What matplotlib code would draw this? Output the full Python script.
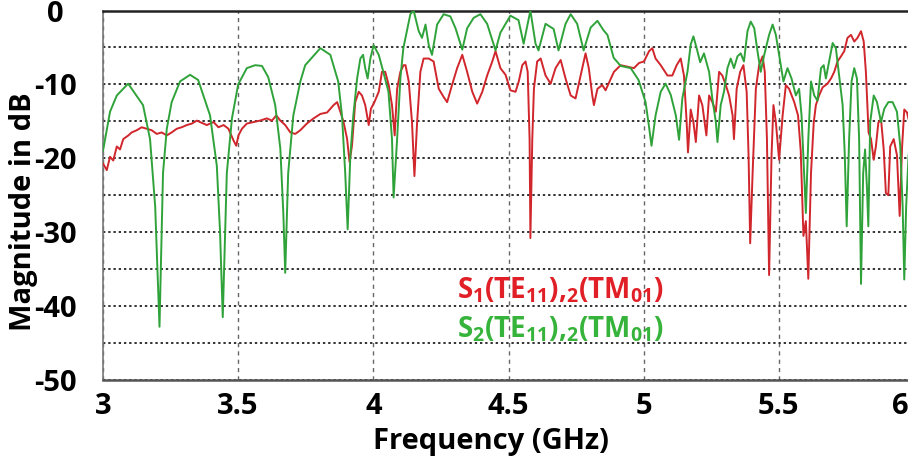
import numpy as np
import matplotlib.pyplot as plt

## S-parameter traces (GHz, dB)
s2_freq = [3.000, 3.026, 3.051, 3.093, 3.148, 3.174, 3.193, 3.209, 3.222, 3.236,
           3.254, 3.285, 3.322, 3.352, 3.396, 3.421, 3.433, 3.443, 3.458, 3.477,
           3.500, 3.532, 3.563, 3.588, 3.611, 3.637, 3.656, 3.667, 3.674, 3.685,
           3.704, 3.730, 3.748, 3.804, 3.841, 3.870, 3.884, 3.896, 3.905, 3.915,
           3.926, 3.940, 3.952, 3.962, 3.970, 3.979, 3.989, 4.001, 4.020, 4.037,
           4.056, 4.069, 4.075, 4.088, 4.100, 4.111, 4.119, 4.137, 4.149, 4.168,
           4.180, 4.193, 4.205, 4.217, 4.236, 4.260, 4.285, 4.304, 4.329, 4.347,
           4.371, 4.396, 4.421, 4.452, 4.470, 4.507, 4.537, 4.556, 4.581, 4.600,
           4.611, 4.637, 4.667, 4.685, 4.711, 4.730, 4.754, 4.778, 4.804, 4.829,
           4.852, 4.866, 4.889, 4.915, 4.952, 4.981, 5.007, 5.019, 5.029, 5.044,
           5.063, 5.081, 5.100, 5.119, 5.131, 5.143, 5.162, 5.174, 5.184, 5.196,
           5.209, 5.223, 5.242, 5.254, 5.267, 5.273, 5.285, 5.297, 5.310, 5.322,
           5.334, 5.347, 5.359, 5.371, 5.384, 5.396, 5.409, 5.421, 5.433, 5.446,
           5.464, 5.477, 5.489, 5.501, 5.517, 5.532, 5.547, 5.563, 5.575, 5.584,
           5.591, 5.600, 5.609, 5.619, 5.631, 5.643, 5.656, 5.666, 5.674, 5.686,
           5.699, 5.711, 5.723, 5.736, 5.744, 5.751, 5.760, 5.769, 5.779, 5.789,
           5.797, 5.804, 5.812, 5.819, 5.826, 5.831, 5.838, 5.851, 5.863, 5.878,
           5.890, 5.905, 5.921, 5.937, 5.949, 5.958, 5.964, 5.971, 5.980]
s2_db = [-19.0, -13.7, -11.5, -9.9, -12.8, -17.4, -26.5, -42.8, -22.0, -16.0,
         -12.4, -9.6, -8.7, -9.4, -14.2, -21.0, -30.0, -41.5, -22.0, -14.6,
         -10.0, -7.8, -7.4, -7.5, -9.0, -12.8, -18.7, -27.4, -35.5, -22.0,
         -14.2, -9.6, -7.4, -5.1, -6.0, -9.6, -14.2, -22.0, -29.6, -19.6,
         -14.2, -9.2, -6.5, -6.0, -7.8, -9.2, -6.5, -4.7, -6.0, -8.3,
         -11.0, -17.4, -25.3, -17.4, -9.2, -5.1, -3.7, -0.5, 0.0, -2.8,
         -3.7, -1.9, -4.7, -6.0, -1.9, -0.5, -0.8, -2.4, -5.3, -2.4,
         -1.0, -0.5, -1.8, -5.4, -3.0, -0.7, -1.3, -4.5, 0.0, -4.5,
         -5.4, -1.8, -2.5, -5.4, -1.8, -0.5, -1.8, -5.4, -2.3, -1.4,
         -2.7, -3.3, -6.4, -7.5, -7.8, -9.4, -12.4, -15.5, -18.3, -14.2,
         -11.0, -9.9, -11.4, -14.2, -17.5, -11.9, -8.3, -4.6, -3.5, -5.1,
         -7.0, -5.8, -8.3, -11.9, -15.1, -17.8, -12.8, -11.0, -7.8, -6.5,
         -7.8, -6.2, -5.8, -6.9, -2.8, -1.5, -2.4, -5.5, -8.3, -6.0,
         -3.3, -1.9, -3.3, -6.0, -9.6, -7.8, -9.2, -11.5, -10.6, -14.2,
         -20.0, -27.4, -17.4, -9.6, -11.5, -12.2, -7.8, -7.4, -9.2, -6.9,
         -4.4, -5.1, -8.8, -12.8, -19.6, -29.2, -17.4, -9.6, -7.8, -9.2,
         -17.4, -37.0, -22.0, -18.8, -24.0, -29.2, -15.1, -11.5, -12.4, -15.1,
         -13.3, -12.4, -12.4, -13.7, -18.3, -26.5, -36.4, -26.5, -19.6]

s1_freq = [3.000, 3.014, 3.026, 3.038, 3.051, 3.063, 3.075, 3.094, 3.106, 3.125,
           3.143, 3.162, 3.180, 3.199, 3.217, 3.236, 3.254, 3.273, 3.291, 3.310,
           3.329, 3.347, 3.359, 3.384, 3.409, 3.427, 3.446, 3.464, 3.483, 3.493,
           3.501, 3.514, 3.532, 3.557, 3.581, 3.606, 3.625, 3.641, 3.656, 3.674,
           3.693, 3.711, 3.730, 3.754, 3.779, 3.804, 3.829, 3.853, 3.866, 3.878,
           3.890, 3.903, 3.912, 3.921, 3.933, 3.946, 3.958, 3.970, 3.983, 3.991,
           4.004, 4.020, 4.032, 4.044, 4.057, 4.069, 4.079, 4.088, 4.100, 4.112,
           4.119, 4.131, 4.143, 4.152, 4.162, 4.174, 4.186, 4.205, 4.223, 4.242,
           4.260, 4.273, 4.291, 4.310, 4.329, 4.347, 4.366, 4.384, 4.403, 4.421,
           4.440, 4.452, 4.470, 4.489, 4.507, 4.526, 4.538, 4.551, 4.563, 4.571,
           4.578, 4.581, 4.588, 4.594, 4.606, 4.619, 4.637, 4.656, 4.674, 4.693,
           4.711, 4.730, 4.748, 4.767, 4.785, 4.797, 4.810, 4.816, 4.829, 4.847,
           4.859, 4.890, 4.915, 4.940, 4.964, 4.983, 5.001, 5.020, 5.032, 5.044,
           5.063, 5.088, 5.106, 5.122, 5.137, 5.149, 5.159, 5.164, 5.174, 5.184,
           5.193, 5.205, 5.217, 5.232, 5.242, 5.254, 5.267, 5.279, 5.291, 5.304,
           5.316, 5.329, 5.334, 5.344, 5.357, 5.369, 5.381, 5.388, 5.394, 5.403,
           5.415, 5.427, 5.440, 5.448, 5.456, 5.464, 5.473, 5.480, 5.489, 5.501,
           5.514, 5.526, 5.538, 5.557, 5.571, 5.581, 5.591, 5.600, 5.609, 5.619,
           5.629, 5.637, 5.649, 5.662, 5.680, 5.693, 5.705, 5.717, 5.730, 5.742,
           5.754, 5.767, 5.779, 5.791, 5.804, 5.814, 5.822, 5.832, 5.841, 5.851,
           5.859, 5.868, 5.878, 5.888, 5.896, 5.905, 5.912, 5.925, 5.937, 5.947,
           5.956, 5.964, 5.974, 5.980]
s1_db = [-20.7, -21.6, -19.8, -20.3, -18.4, -18.8, -17.4, -16.9, -16.5, -16.2,
         -15.8, -16.0, -16.2, -16.7, -16.5, -16.9, -16.5, -16.0, -15.8, -15.5,
         -15.3, -14.9, -15.1, -15.5, -15.1, -15.8, -15.5, -16.0, -17.6, -18.3,
         -16.9, -16.0, -15.3, -15.1, -14.9, -14.6, -14.9, -14.2, -14.9, -15.5,
         -16.5, -16.7, -16.2, -15.3, -14.6, -14.0, -13.8, -12.8, -12.4, -13.7,
         -15.1, -17.4, -20.5, -18.3, -12.4, -11.0, -11.5, -12.8, -15.5, -13.3,
         -12.4, -11.0, -8.3, -8.3, -10.1, -12.8, -16.9, -10.6, -8.3, -7.4,
         -7.4, -9.6, -15.1, -22.4, -15.1, -8.3, -6.5, -6.5, -6.9, -10.6,
         -11.7, -12.4, -10.1, -7.8, -6.0, -8.3, -11.0, -12.6, -11.0, -8.8,
         -6.9, -5.5, -7.8, -8.7, -10.8, -11.0, -9.6, -7.4, -6.9, -8.3,
         -17.4, -30.8, -17.4, -10.6, -6.9, -6.5, -8.8, -9.9, -7.8, -6.7,
         -9.2, -11.5, -11.9, -8.8, -5.8, -7.8, -11.5, -12.8, -10.6, -10.1,
         -10.8, -8.3, -7.4, -7.6, -7.8, -7.1, -6.9, -5.5, -5.1, -6.5,
         -7.4, -8.8, -8.8, -7.4, -6.5, -8.8, -15.1, -19.2, -13.4, -15.1,
         -17.8, -11.5, -12.8, -16.9, -11.5, -12.4, -13.7, -8.3, -8.8, -10.1,
         -11.5, -14.2, -17.4, -10.6, -8.3, -7.4, -11.0, -19.6, -31.5, -22.0,
         -10.6, -7.4, -6.2, -8.3, -17.4, -35.8, -19.6, -12.8, -15.1, -20.2,
         -14.2, -10.1, -10.6, -12.4, -14.2, -19.0, -30.5, -28.5, -36.3, -22.0,
         -15.2, -12.8, -11.5, -10.4, -9.9, -9.2, -8.3, -6.9, -6.2, -5.5,
         -3.7, -3.3, -4.2, -3.7, -2.8, -4.2, -8.3, -16.5, -17.4, -20.2,
         -18.4, -15.2, -14.7, -18.8, -24.7, -25.0, -18.4, -17.4, -19.6, -27.8,
         -18.4, -13.4, -13.8, -14.7]

x_ticks = [3, 3.5, 4, 4.5, 5, 5.5, 6]
x_tick_labels = ['3', '3.5', '4', '4.5', '5', '5.5', '']
y_ticks = [-50, -40, -30, -20, -10, 0]
labels = [r'$\mathbf{S_1(TE_{11}){,}_2(TM_{01})}$', r'$\mathbf{S_2(TE_{11}){,}_2(TM_{01})}$']

plt.rcParams['font.family'] = ['Open Sans', 'DejaVu Sans']
plt.rcParams['axes.unicode_minus'] = False
plt.rcParams['mathtext.fontset'] = 'custom'
plt.rcParams['mathtext.bf'] = 'Open Sans:bold'
plt.rcParams['mathtext.rm'] = 'Open Sans:bold'

W, H = 908, 459
fig = plt.figure(figsize=(W / 100, H / 100), dpi=100)
ax = fig.add_axes([103 / W, 1 - 380 / H, (914 - 103) / W, (380 - 10.5) / H])

ax.plot(s1_freq, s1_db, color='#d0262c', lw=1.4, zorder=3)
ax.plot(s2_freq, s2_db, color='#2fa33a', lw=1.4, zorder=4)

ax.set_xlim(3, 6)
ax.set_ylim(-50, 0)
ax.set_xticks(x_ticks)
ax.set_xticklabels(x_tick_labels)
ax.set_yticks(y_ticks)
ax.set_yticks(np.arange(-45, 0, 5), minor=True)
ax.tick_params(length=0, which='both')
ax.tick_params(axis='x', labelsize=21, pad=9)
ax.tick_params(axis='y', labelsize=21, pad=34)
for lab in ax.get_xticklabels() + ax.get_yticklabels():
    lab.set_fontweight('bold')
for lab in ax.get_yticklabels():
    lab.set_ha('center')

# "6" label is squeezed in at the right edge
ax.annotate('6', xy=(6, -50), xytext=(-10, -9), textcoords='offset points',
            ha='center', va='top', fontsize=21, fontweight='bold', annotation_clip=False)

ax.yaxis.grid(True, which='both', color='#222222', linestyle=(0, (1.3, 1.6)), lw=1.3, zorder=1)
ax.xaxis.grid(True, which='major', color='#666666', linestyle=(0, (3, 3)), lw=1.0, zorder=1)

ax.spines['top'].set_color('#222222')
ax.spines['top'].set_linewidth(1.8)
ax.spines['bottom'].set_color('#555555')
ax.spines['bottom'].set_linewidth(1.8)
ax.spines['left'].set_color('#777777')
ax.spines['left'].set_linewidth(1.2)
ax.spines['right'].set_visible(False)

fig.text(491 / W, 1 - 441 / H, 'Frequency (GHz)', ha='center', va='center',
         fontsize=21, fontweight='bold')
fig.text(24 / W, 1 - 212 / H, 'Magnitude in dB', ha='center', va='center',
         rotation=90, fontsize=21, fontweight='bold')

ax.text(4.311, -38.9, labels[0], color='#e01f26', fontsize=20, ha='left', va='baseline', zorder=5)
ax.text(4.311, -44.2, labels[1], color='#36b33a', fontsize=20, ha='left', va='baseline', zorder=5)

fig.savefig('out.png', dpi=100)
